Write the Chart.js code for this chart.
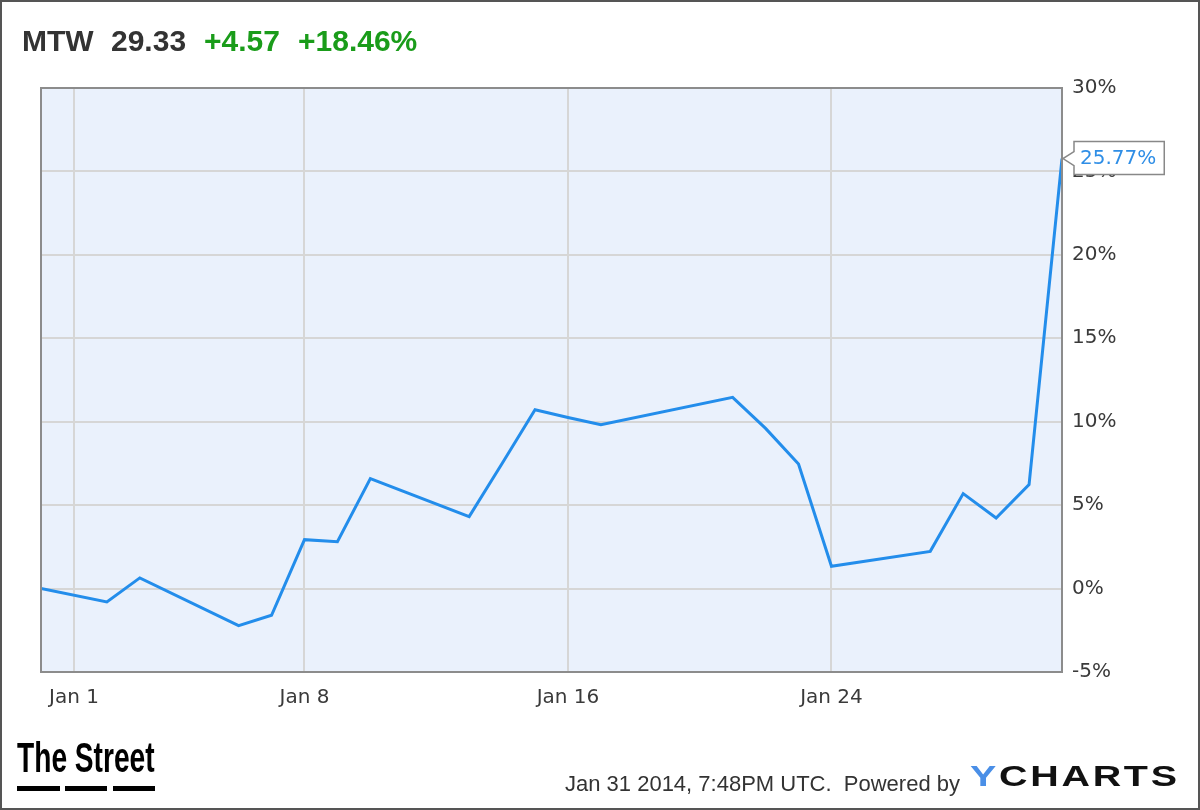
<!DOCTYPE html>
<html>
<head>
<meta charset="utf-8">
<script src="https://cdn.jsdelivr.net/npm/chart.js@4.4.1/dist/chart.umd.min.js"></script>
<style>
  html, body { margin: 0; padding: 0; background: #fff; }
  #wrap { position: relative; width: 1200px; height: 810px; overflow: hidden; }
  #frame { position: absolute; left: 0; top: 0; width: 1200px; height: 810px; box-sizing: border-box; border: 2px solid #555; pointer-events: none; z-index: 5; }
  canvas { position: absolute; left: 0; top: 0; }
  .hdr { position: absolute; top: 24px; font-family: "Liberation Sans", Arial, sans-serif; font-weight: bold; font-size: 30px; line-height: 34px; white-space: nowrap; }
  .dark { color: #333; }
  .green { color: #1a9c1a; }
  #logo { position: absolute; left: 17px; top: 736px; font-family: "Liberation Sans", Arial, sans-serif; font-weight: bold; font-size: 42px; line-height: 44px; color: #000; transform: scaleX(0.67); transform-origin: left top; white-space: nowrap; }
  .dash { position: absolute; top: 786px; height: 5px; background: #000; }
  #stamp { position: absolute; left: 565px; top: 771px; font-family: "Liberation Sans", Arial, sans-serif; font-size: 22px; line-height: 26px; color: #333; white-space: nowrap; }
  #ych { position: absolute; left: 970px; top: 762px; font-family: "Liberation Sans", Arial, sans-serif; font-weight: bold; font-size: 29px; line-height: 29px; color: #111; letter-spacing: 2px; white-space: nowrap; transform: scaleX(1.36); transform-origin: left top; }
  #ych span { color: #4a8fe7; }
</style>
</head>
<body>
<div id="wrap">
  <canvas id="c" width="1200" height="810"></canvas>
  <div class="hdr dark" style="left:22px">MTW</div>
  <div class="hdr dark" style="left:111px">29.33</div>
  <div class="hdr green" style="left:204px">+4.57</div>
  <div class="hdr green" style="left:298px">+18.46%</div>
  <div id="logo">The Street</div>
  <div class="dash" style="left:17px;width:43px"></div>
  <div class="dash" style="left:65px;width:42px"></div>
  <div class="dash" style="left:113px;width:42px"></div>
  <div id="stamp">Jan 31 2014, 7:48PM UTC.&nbsp; Powered by</div>
  <div id="ych"><span>Y</span>CHARTS</div>
  <div id="frame"></div>
</div>
<script>
// ---- data ----
const dates = ['2013-12-31','2014-01-02','2014-01-03','2014-01-06','2014-01-07','2014-01-08','2014-01-09','2014-01-10',
  '2014-01-13','2014-01-14','2014-01-15','2014-01-16','2014-01-17','2014-01-21','2014-01-22','2014-01-23','2014-01-24',
  '2014-01-27','2014-01-28','2014-01-29','2014-01-30','2014-01-31'];
const changePct = [0, -0.80, 0.64, -2.22, -1.60, 2.93, 2.81, 6.59,
  4.31, 7.5, 10.72, 10.25, 9.82, 11.46, 9.6, 7.47, 1.34,
  2.23, 5.69, 4.23, 6.23, 25.77];
const xTickDays = [1, 8, 16, 24];
const xTickLabels = ['Jan 1', 'Jan 8', 'Jan 16', 'Jan 24'];
const yTicks = [-5, 0, 5, 10, 15, 20, 25, 30];
const lastLabel = '25.77%';

const base = Date.UTC(2013, 11, 31);
const dayOf = d => { const p = d.split('-').map(Number); return (Date.UTC(p[0], p[1]-1, p[2]) - base) / 86400000; };
const points = dates.map((d, i) => ({ x: dayOf(d), y: changePct[i] }));

const AXIS_FONT = { family: 'DejaVu Sans', size: 20 };

const plotBg = {
  id: 'plotBg',
  beforeDraw(chart) {
    const { ctx, chartArea: a } = chart;
    ctx.save();
    ctx.fillStyle = '#eaf1fc';
    ctx.fillRect(a.left, a.top, a.right - a.left, a.bottom - a.top);
    ctx.restore();
  },
  afterDatasetsDraw(chart) {
    const { ctx, chartArea: a } = chart;
    ctx.save();
    ctx.strokeStyle = '#8c8c8c';
    ctx.lineWidth = 2;
    ctx.strokeRect(a.left, a.top, a.right - a.left, a.bottom - a.top);
    // last value callout
    const meta = chart.getDatasetMeta(0);
    const pt = meta.data[meta.data.length - 1];
    const px = pt.x + 1, py = pt.y;
    ctx.font = '20px "DejaVu Sans"';
    const tw = ctx.measureText(lastLabel).width;
    const bx = px + 11, bh = 33, bw = tw + 14, by = py - 17;
    ctx.fillStyle = '#fff';
    ctx.strokeStyle = '#888';
    ctx.lineWidth = 1.5;
    ctx.beginPath();
    ctx.moveTo(bx, by);
    ctx.lineTo(bx + bw, by);
    ctx.lineTo(bx + bw, by + bh);
    ctx.lineTo(bx, by + bh);
    ctx.lineTo(bx, py + 7);
    ctx.lineTo(px, py);
    ctx.lineTo(bx, py - 7);
    ctx.closePath();
    ctx.fill();
    ctx.stroke();
    ctx.fillStyle = '#2f8ee6';
    ctx.textBaseline = 'middle';
    ctx.fillText(lastLabel, bx + 6, by + bh / 2 + 1);
    ctx.restore();
  }
};

new Chart(document.getElementById('c'), {
  type: 'line',
  data: {
    datasets: [{
      data: points,
      borderColor: '#238deb',
      borderWidth: 3,
      pointRadius: 0,
      tension: 0,
      fill: false
    }]
  },
  options: {
    responsive: false,
    animation: false,
    layout: { padding: { left: 41, top: 88, right: 48, bottom: 98 } },
    plugins: { legend: { display: false }, tooltip: { enabled: false } },
    scales: {
      x: {
        type: 'linear',
        min: 0, max: 31,
        afterBuildTicks: s => { s.ticks = xTickDays.map(v => ({ value: v })); },
        afterFit: s => { s.height = 40; },
        ticks: {
          callback: v => xTickLabels[xTickDays.indexOf(v)],
          font: AXIS_FONT, color: '#3a3a3a', padding: 14, maxRotation: 0, autoSkip: false
        },
        grid: { color: '#d6d6d6', lineWidth: 2, drawTicks: false },
        border: { display: false }
      },
      y: {
        position: 'right',
        min: -5, max: 30,
        afterBuildTicks: s => { s.ticks = yTicks.map(v => ({ value: v })); },
        afterFit: s => { s.width = 90; },
        ticks: {
          callback: v => v + '%',
          font: AXIS_FONT, color: '#3a3a3a', padding: 10
        },
        grid: { color: '#d6d6d6', lineWidth: 2, drawTicks: false },
        border: { display: false }
      }
    }
  },
  plugins: [plotBg]
});
</script>
</body>
</html>
